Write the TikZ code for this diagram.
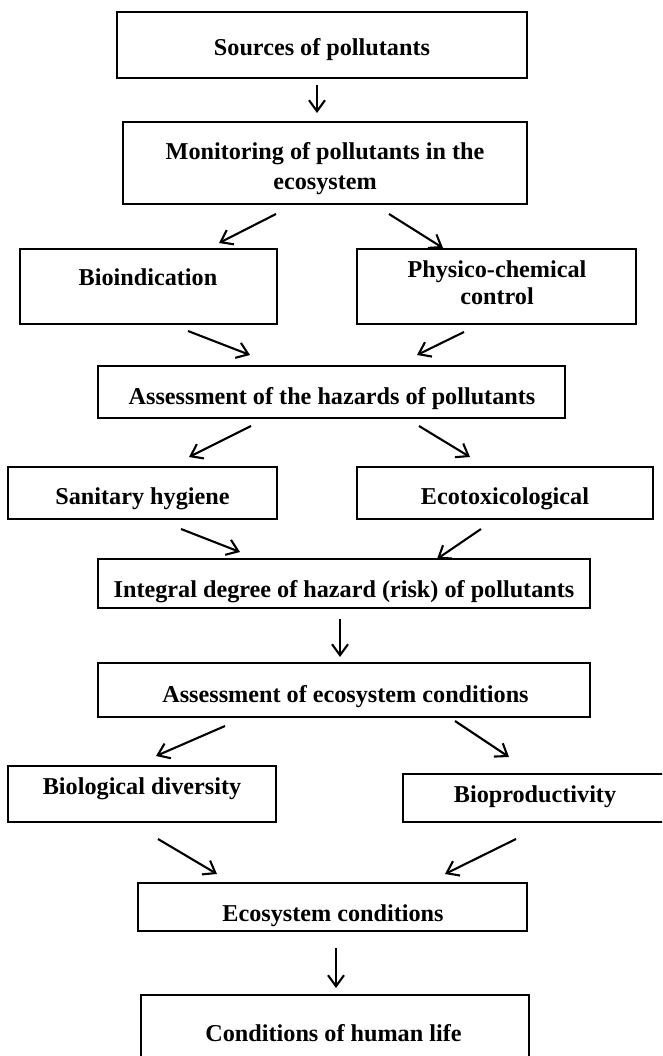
\documentclass[tikz,border=0pt]{standalone}
\usepackage{fontspec}
\setmainfont{Liberation Serif}
\usetikzlibrary{arrows.meta,calc}
\begin{document}
\begin{tikzpicture}[x=1pt,y=-1pt,
 box/.style={draw=black, line width=2pt, inner sep=0pt},
 lbl/.style={font=\fontsize{24.2}{29}\selectfont\bfseries, anchor=base, inner sep=0pt},
 arr/.style={line width=2.1pt, -{Straight Barb[length=11pt,width=16pt,line width=2.1pt]}}]
\path[use as bounding box] (0,0) rectangle (662,1056);
\clip (0,0) rectangle (662,1056);
% boxes
\node[box, minimum width=410pt, minimum height=66pt] (src) at (322,45) {};
\node[box, minimum width=404pt, minimum height=82pt] (mon) at (325,163) {};
\node[box, minimum width=257pt, minimum height=75pt] (bio) at (148.5,286.5) {};
\node[box, minimum width=279pt, minimum height=75pt] (phy) at (496.5,286.5) {};
\node[box, minimum width=467pt, minimum height=52pt] (haz) at (331.5,392) {};
\node[box, minimum width=269pt, minimum height=52pt] (san) at (142.5,493) {};
\node[box, minimum width=296pt, minimum height=52pt] (eco) at (505,493) {};
\node[box, minimum width=492pt, minimum height=49pt] (int) at (344,583.5) {};
\node[box, minimum width=492pt, minimum height=54pt] (aec) at (344,690) {};
\node[box, minimum width=268pt, minimum height=56pt] (bd) at (142,794) {};
\node[box, minimum width=264pt, minimum height=48pt] (bp) at (535,798) {};
\node[box, minimum width=389pt, minimum height=48pt] (ec) at (332.5,907) {};
\node[box, minimum width=388pt, minimum height=75pt] (hum) at (335,1032.5) {};
% labels
\node[lbl] (tsrc) at (322,56) {Sources of pollutants};
\node[lbl] (tmon1) at (325,160) {Monitoring of pollutants in the};
\node[lbl] (tmon2) at (325,190) {ecosystem};
\node[lbl] (tbio) at (148,286) {Bioindication};
\node[lbl] (tphy1) at (497,277) {Physico-chemical};
\node[lbl] (tphy2) at (497,305) {control};
\node[lbl] (thaz) at (332,404) {Assessment of the hazards of pollutants};
\node[lbl] (tsan) at (142.5,504) {Sanitary hygiene};
\node[lbl] (teco) at (505,504) {Ecotoxicological};
\node[lbl] (tint) at (344,597) {Integral degree of hazard (risk) of pollutants};
\node[lbl] (taec) at (345.5,702) {Assessment of ecosystem conditions};
\node[lbl] (tbd) at (142,794) {Biological diversity};
\node[lbl] (tbp) at (535,802) {Bioproductivity};
\node[lbl] (tec) at (333,921) {Ecosystem conditions};
\node[lbl] (thum) at (333.5,1041) {Conditions of human life};
% arrow end points
\coordinate (a1s) at (317,85);  \coordinate (a1e) at (317,113);
\coordinate (a2s) at (276,214); \coordinate (a2e) at (219,243);
\coordinate (a3s) at (389,214); \coordinate (a3e) at (443,248);
\coordinate (a4s) at (188,331); \coordinate (a4e) at (250,355);
\coordinate (a5s) at (464,332); \coordinate (a5e) at (417,355);
\coordinate (a6s) at (251,426); \coordinate (a6e) at (189,457);
\coordinate (a7s) at (419,426); \coordinate (a7e) at (470,457);
\coordinate (a8s) at (181,529); \coordinate (a8e) at (240,552);
\coordinate (a9s) at (481,529); \coordinate (a9e) at (437,559);
\coordinate (a10s) at (340,619); \coordinate (a10e) at (340,657);
\coordinate (a11s) at (225,726); \coordinate (a11e) at (156,756);
\coordinate (a12s) at (455,721); \coordinate (a12e) at (509,757);
\coordinate (a13s) at (158,839); \coordinate (a13e) at (217,874);
\coordinate (a14s) at (516,839); \coordinate (a14e) at (445,874);
\coordinate (a15s) at (336,948); \coordinate (a15e) at (336,988);
\foreach \i in {1,...,15} {\draw[arr] (a\i s) -- (a\i e);}
\end{tikzpicture}
\end{document}
